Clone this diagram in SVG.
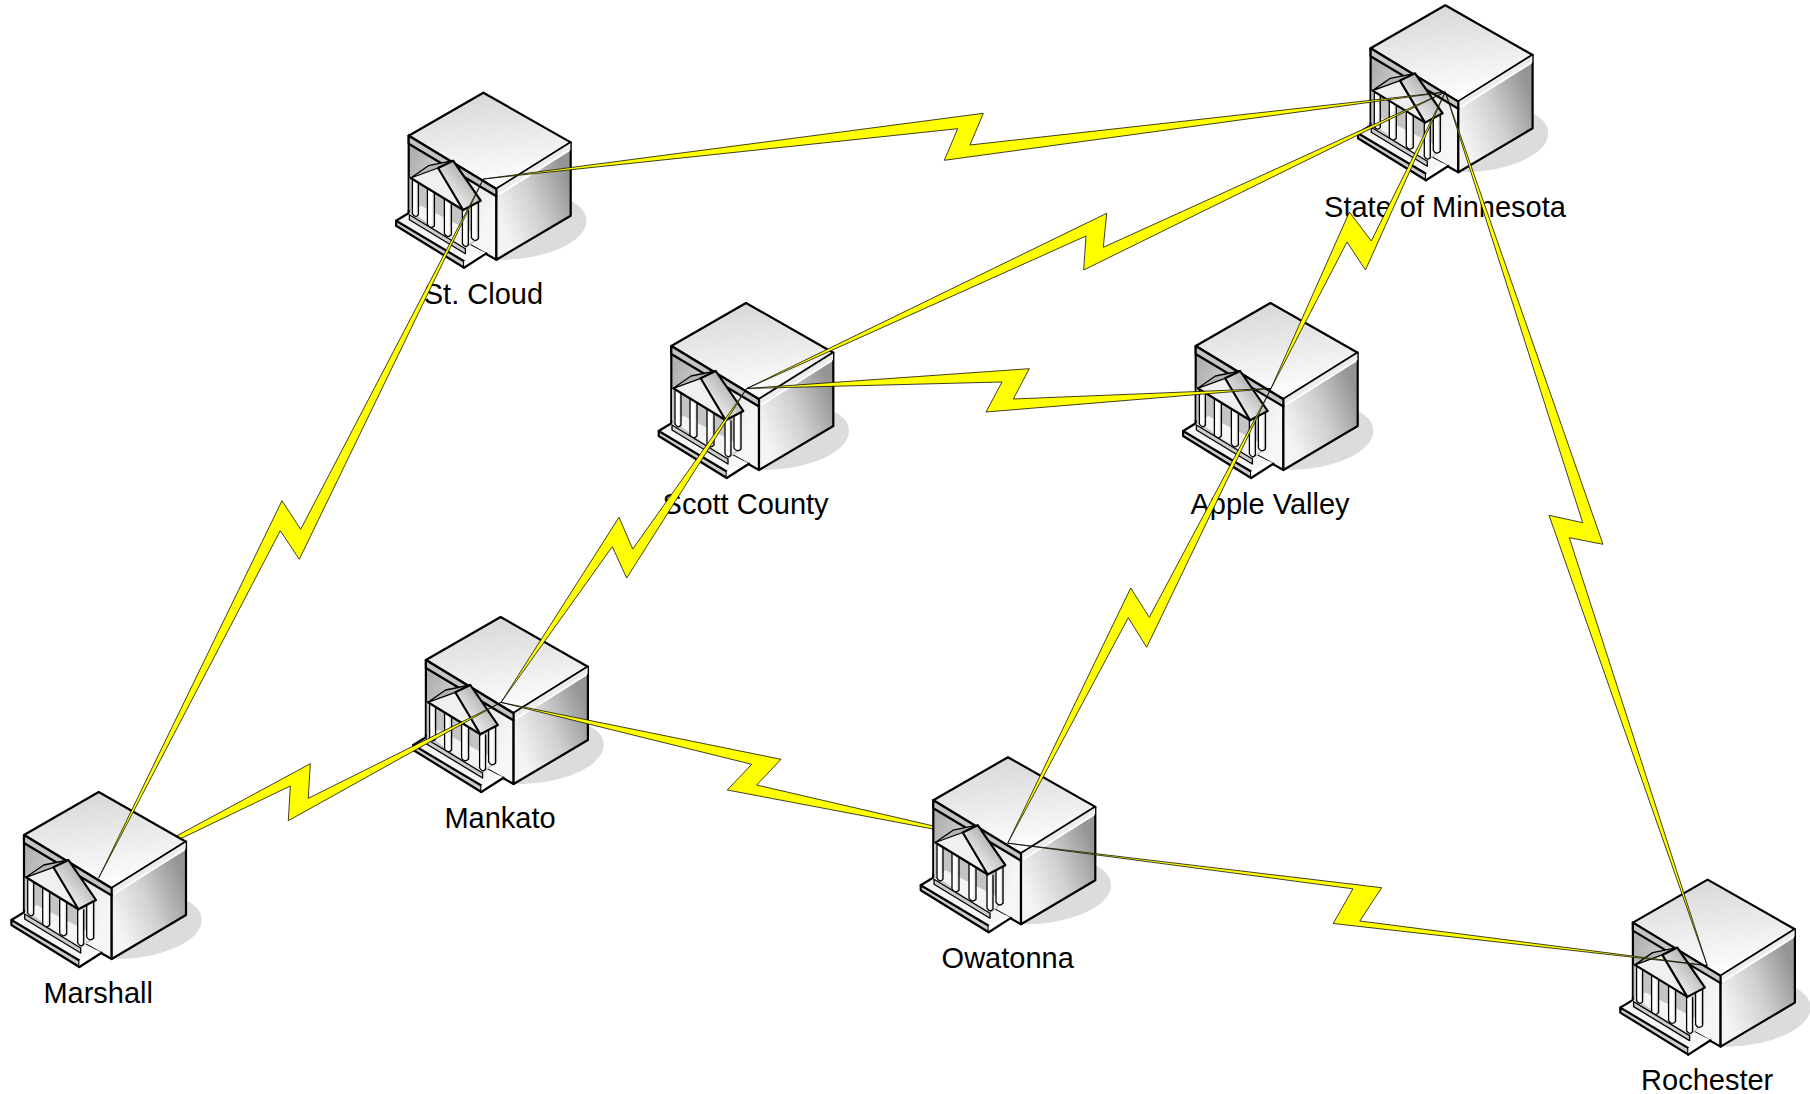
<svg xmlns="http://www.w3.org/2000/svg" xmlns:xlink="http://www.w3.org/1999/xlink" width="1810" height="1094" viewBox="0 0 1810 1094">
<style>
.k{stroke:#000;stroke-width:2.2;stroke-linejoin:round;stroke-linecap:round}
.t{stroke:#000;stroke-width:1.3;stroke-linejoin:round;stroke-linecap:round}
.bolt{fill:#ffff00;stroke:#000;stroke-width:.75;stroke-linejoin:round}
.lbl{font-family:"Liberation Sans",Arial,sans-serif;font-size:29px;text-anchor:middle;fill:#000}
</style>
<defs>
<linearGradient id="gTop" gradientUnits="userSpaceOnUse" x1="0" y1="0" x2="10" y2="96"><stop offset="0" stop-color="#d8d8d8"/><stop offset="1" stop-color="#ffffff"/></linearGradient>
<linearGradient id="gRight" gradientUnits="userSpaceOnUse" x1="15" y1="125" x2="88" y2="95"><stop offset="0" stop-color="#f4f4f4"/><stop offset="0.5" stop-color="#cfcfcf"/><stop offset="1" stop-color="#959595"/></linearGradient>
<linearGradient id="gLeft" gradientUnits="userSpaceOnUse" x1="-75" y1="70" x2="13" y2="110"><stop offset="0" stop-color="#b0b0b0"/><stop offset="0.5" stop-color="#dedede"/><stop offset="1" stop-color="#f6f6f6"/></linearGradient>
<linearGradient id="gRoof" gradientUnits="userSpaceOnUse" x1="-38" y1="100" x2="-14" y2="78"><stop offset="0" stop-color="#f0f0f0"/><stop offset="1" stop-color="#a8a8a8"/></linearGradient>
<linearGradient id="gCol" x1="0" y1="0" x2="1" y2="0"><stop offset="0" stop-color="#ffffff"/><stop offset="0.6" stop-color="#ffffff"/><stop offset="1" stop-color="#c8c8c8"/></linearGradient>
<g id="bldg">
<path d="M13,167C60,168 103,150 103,128C103,118 95,112 87,108Z" fill="#dcdcdc"/>
<polygon points="-74.7,43 13,96.3 13,167 -74.7,118" fill="url(#gLeft)" class="k"/>
<polygon points="0,0 87.3,49.7 13,96.3 -74.7,43" fill="url(#gTop)" class="k"/>
<polygon points="13,96.3 87.3,49.7 87.3,123 13,167" fill="url(#gRight)" class="k"/>
<polygon points="13,96.8 87,50.5 87,57 13,103" fill="#ececec"/>
<polyline points="15,102 86,57.5" fill="none" stroke="#fff" stroke-width="1.8"/>
<polygon points="-74.7,43 13,96.3 13,103.5 -74.7,51" fill="#c4c4c4" class="k"/>
<polygon points="-87.3,127 -75,120 3,160.7 -19.3,175 -87.3,133" fill="#f6f6f6"/>
<polygon points="-74,85 -20,117 -4,108 -4,145 -20,158 -74,120" fill="#c4c4c4"/>
<polygon points="-73,118 -62,113 -4,143 -20,156" fill="#f4f4f4"/>
<g class="t" fill="url(#gCol)">
<path d="M-71,88V121Q-68,126 -65,122V90"/>
<path d="M-56,96V132Q-53,137 -49,133V99"/>
<path d="M-39,106V141Q-36,146 -32,142V109"/>
<path d="M-12,113V145Q-9,150 -5,146V110"/>
<path d="M-21,116V151Q-18,156 -15,152V118"/>
</g>
<polygon points="-74,122 -18,156 -18,161 -74,127" fill="#cccccc" class="t"/>
<polygon points="-87.3,128 -19.3,168.5 -19.3,175 -87.3,133" fill="#cccccc" class="k"/>
<polyline points="-87.3,128 -75,120.5 -74.7,118" fill="none" class="k"/>
<polygon points="-19.3,168.5 -2,158 3,160.7 3,160.7 -19.3,175" fill="#fff"/>
<polyline points="-19.3,175 3,160.7" fill="none" class="k"/>
<polygon points="-72.7,85.3 -45.3,75.3 -20.3,117.3" fill="#f0f0f0"/>
<polygon points="-72.7,85.3 -55,73 -30.3,68 -45.3,75.3" fill="#b4b4b4" class="t"/>
<polygon points="-45.3,75.3 -30.3,68 -2.7,108 -20.3,117.3" fill="url(#gRoof)" class="k"/>
<polyline points="-72.7,85.3 -20.3,117.3" fill="none" class="k"/>
</g>
</defs>

<g id="node-mankato"><use href="#bldg" x="500.6" y="617"/><text class="lbl" x="500" y="828">Mankato</text></g>

<g id="connectors-back">
<polygon class="bolt" points="98.7,878 310.3,763.7 308.3,798.3 501,702.4 288.3,820.7 290.3,786"/>
<polygon class="bolt" points="501,702.4 781,759.3 756.7,785 1007.7,843.2 727.3,790 751.7,764.3"/>
</g>

<g id="node-marshall"><use href="#bldg" x="98.7" y="792"/><text class="lbl" x="98.2" y="1003">Marshall</text></g>
<g id="node-st-cloud"><use href="#bldg" x="483.4" y="92.7"/><text class="lbl" x="483.4" y="304">St. Cloud</text></g>
<g id="node-state"><use href="#bldg" x="1445.3" y="5.3"/><text class="lbl" x="1445" y="217">State of Minnesota</text></g>
<g id="node-scott"><use href="#bldg" x="746" y="303"/><text class="lbl" x="745.6" y="514">Scott County</text></g>
<g id="node-apple"><use href="#bldg" x="1270.4" y="303"/><text class="lbl" x="1270" y="514">Apple Valley</text></g>
<g id="node-owatonna"><use href="#bldg" x="1008" y="757.2"/><text class="lbl" x="1007.7" y="968">Owatonna</text></g>
<g id="node-rochester"><use href="#bldg" x="1707.6" y="879.6"/><text class="lbl" x="1707.2" y="1090">Rochester</text></g>

<g id="connectors">
<polygon class="bolt" points="483.4,179 983.3,113.3 970,145 1445.3,92 944.3,160.3 957.7,128.7"/>
<polygon class="bolt" points="746.8,388.5 1106.7,213.3 1103.3,247.3 1445.3,92 1083.7,270 1086,236"/>
<polygon class="bolt" points="746.8,388.5 1029.3,368.7 1013.3,399 1271,388.5 986,412 1002,382"/>
<polygon class="bolt" points="98.7,878 282,500.7 300.7,529.3 483.4,179 299.3,559.3 280.3,530.7"/>
<polygon class="bolt" points="501,702.4 619,517.3 632.7,549 746.8,388.5 626.7,578 612.3,546.7"/>
<polygon class="bolt" points="1007.7,843.2 1130.7,588 1149.3,617.3 1271,388.5 1146.7,647.3 1128.3,617.7"/>
<polygon class="bolt" points="1007.7,843.2 1381.7,887.7 1359.8,921 1707.2,965.6 1333.2,923.5 1352.9,888.8"/>
<polygon class="bolt" points="1271,388.5 1349.4,212 1371.3,241 1445.3,92 1365.5,270 1347,242"/>
<polygon class="bolt" points="1445.3,92 1582.7,522.7 1549,515.3 1707.2,965.6 1569.3,537.7 1603,544.3"/>
</g>
</svg>
